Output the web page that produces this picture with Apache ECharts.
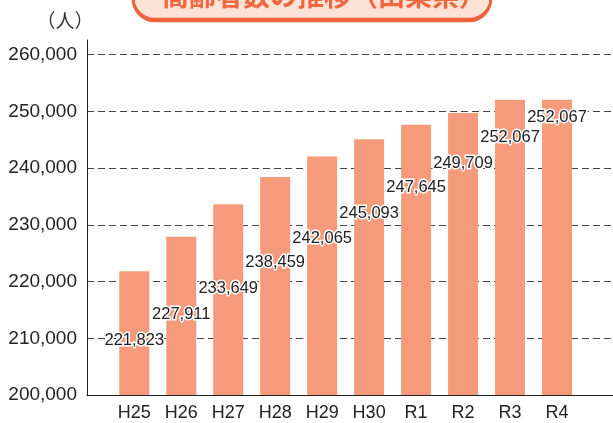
<!DOCTYPE html>
<html>
<head>
<meta charset="utf-8">
<script src="https://cdn.jsdelivr.net/npm/echarts@6/dist/echarts.min.js"></script>
<style>
  html, body { margin: 0; padding: 0; background: #fff; }
  #chart { width: 613px; height: 423px; }
</style>
</head>
<body>
<div id="chart"></div>
<script>
// 年度
var years = ['H25', 'H26', 'H27', 'H28', 'H29', 'H30', 'R1', 'R2', 'R3', 'R4']
// 高齢者数（人）
var elderly = [221823, 227911, 233649, 238459, 242065, 245093, 247645, 249709, 252067, 252067]
// ラベルの位置（棒の上端からの下げ幅, px）
var labelDrop = [69, 78, 84, 86, 82, 74, 63, 50, 38, 18]

var yMin = 200000
var yMax = 262600
var yStep = 10000

var barColor = '#f59a7a'
var textColor = '#222'
var latin = '"Liberation Sans", Arial, sans-serif'
var cjk = '"Noto Sans CJK JP", sans-serif'

function fmt(v) {
  return String(v).replace(/\B(?=(\d{3})+(?!\d))/g, ',')
}

var barData = []
for (var i = 0; i < elderly.length; i++) {
  barData.push({
    value: elderly[i],
    label: {
      position: ['50%', labelDrop[i]]
    }
  })
}

var option = {
  backgroundColor: '#fff',
  animation: false,
  grid: [
    // 軸・目盛線用
    { left: 87, right: 0, top: 40, bottom: 28 },
    // 棒グラフ用
    { left: 110.8, right: 32.5, top: 40, bottom: 28 }
  ],
  xAxis: [{
    gridIndex: 0,
    type: 'value',
    min: 0,
    max: 1,
    axisLine: { show: true, lineStyle: { color: textColor, width: 1 } },
    axisTick: { show: false },
    axisLabel: { show: false },
    splitLine: { show: false }
  }, {
    gridIndex: 1,
    type: 'category',
    data: years,
    axisLine: { show: false },
    axisTick: { show: false },
    axisLabel: {
      color: textColor,
      fontFamily: latin,
      fontSize: 18,
      margin: 9
    }
  }],
  yAxis: [{
    gridIndex: 0,
    type: 'value',
    min: yMin,
    max: yMax,
    interval: yStep,
    axisLine: { show: true, lineStyle: { color: textColor, width: 1 } },
    axisTick: { show: false },
    axisLabel: {
      color: textColor,
      fontFamily: latin,
      fontSize: 19,
      margin: 10,
      showMaxLabel: false,
      formatter: function (v) { return fmt(v) }
    },
    splitLine: {
      show: true,
      showMaxLine: false,
      showMinLine: false,
      lineStyle: { color: '#444', type: [7, 4], width: 1 }
    }
  }, {
    gridIndex: 1,
    type: 'value',
    min: yMin,
    max: yMax,
    interval: yStep,
    show: false
  }],
  series: [{
    type: 'bar',
    xAxisIndex: 1,
    yAxisIndex: 1,
    barWidth: 30,
    itemStyle: { color: barColor },
    label: {
      show: true,
      align: 'center',
      verticalAlign: 'middle',
      color: textColor,
      fontFamily: latin,
      fontSize: 16.5,
      textBorderColor: '#fff',
      textBorderWidth: 3,
      formatter: function (p) { return fmt(p.value) }
    },
    data: barData,
    z: 3
  }],
  graphic: [{
    type: 'group',
    children: [{
      type: 'rect',
      shape: { x: 133, y: -40, width: 358, height: 59, r: 22 },
      style: {
        fill: '#fde2d6',
        stroke: '#f0623a',
        lineWidth: 2.5,
        shadowColor: '#f0623a',
        shadowOffsetY: 2,
        shadowBlur: 0
      }
    }, {
      type: 'text',
      style: {
        x: 324,
        y: -4,
        text: '高齢者数の推移（山梨県）',
        align: 'center',
        verticalAlign: 'middle',
        fill: '#f0673d',
        fontFamily: cjk,
        fontWeight: 'bold',
        fontSize: 27
      }
    }]
  }, {
    type: 'text',
    style: {
      x: 65,
      y: 21,
      text: '（人）',
      align: 'center',
      verticalAlign: 'middle',
      fill: '#333',
      fontFamily: cjk,
      fontSize: 19
    }
  }]
}

var myChart = echarts.init(document.getElementById('chart'), null, { renderer: 'canvas' })
myChart.setOption(option)
</script>
</body>
</html>
